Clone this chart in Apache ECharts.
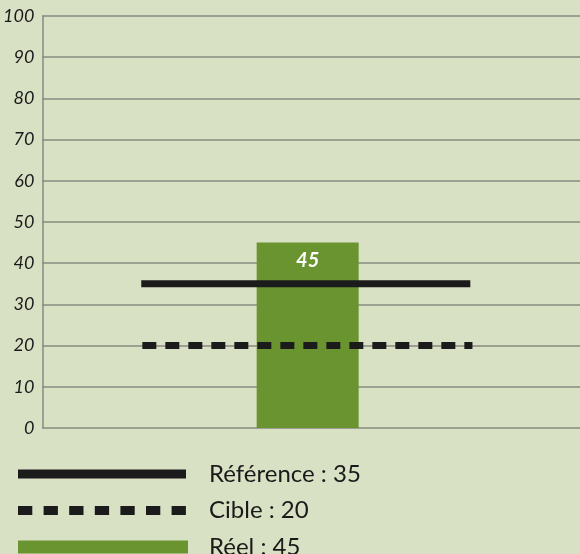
<!DOCTYPE html>
<html>
<head>
<meta charset="utf-8">
<script src="https://cdn.jsdelivr.net/npm/echarts@6/dist/echarts.min.js"></script>
<style>
html,body{margin:0;padding:0;background:#d9e1c4;}
#chart{width:580px;height:554px;}
</style>
</head>
<body>
<div id="chart"></div>
<script>
// ---- data ----
const categories = ['Réel'];
const actualValues = [45];
const referenceValue = 35;
const targetValue = 20;
const yTickLabels = ['0','10','20','30','40','50','60','70','80','90','100'];
// horizontal placement along a hidden 0..100 x scale
const barPosition = 49.35;
const refSpan = [18.4, 79.6];
const targetSpan = [18.6, 80.0];

const refName = 'Référence : ' + referenceValue;
const targetName = 'Cible : ' + targetValue;
const actualName = categories[0] + ' : ' + actualValues[0];

// legend icon shapes (170 x 13 box; tiny corner marks fix the bounding box)
const box = ' M0,0 h0.01 v0.01 h-0.01 Z M170,13 h-0.01 v-0.01 h0.01 Z';
const solidIcon = 'path://M0,2 h168 v9 h-168 Z' + box;
let dashPath = '';
for (let i = 0; i < 7; i++) { dashPath += 'M' + (i * 25.6).toFixed(1) + ',2 h14.3 v9 h-14.3 Z '; }
const dashIcon = 'path://' + dashPath + box;

const chart = echarts.init(document.getElementById('chart'), null, {renderer: 'canvas'});
const labelFont = 'Lato';
chart.setOption({
  backgroundColor: '#d9e1c4',
  animation: false,
  grid: {left: 41, right: 0, top: 16, bottom: 126},
  xAxis: {type: 'value', min: 0, max: 100, show: false},
  yAxis: {
    type: 'value', min: 0, max: 100, interval: 10,
    axisLine: {show: true, lineStyle: {color: '#878a80', width: 1.5}},
    axisTick: {show: false},
    axisLabel: {
      margin: 8, color: '#1a1a1a', fontSize: 18, fontStyle: 'italic',
      fontFamily: labelFont,
      formatter: v => yTickLabels[Math.round(v / 10)]
    },
    splitLine: {show: true, lineStyle: {color: '#878a80', width: 1.5}}
  },
  legend: {
    orient: 'vertical', left: 18, top: 462, height: 120, padding: 0,
    itemWidth: 170, itemHeight: 13, itemGap: 12.5,
    textStyle: {fontFamily: 'Lato', fontSize: 24, color: '#1a1a1a', padding: [0,0,0,16], lineHeight: 24},
    data: [
      {name: refName, icon: solidIcon, itemStyle: {color: '#1b1b1b'}},
      {name: targetName, icon: dashIcon, itemStyle: {color: '#1b1b1b'}},
      {name: actualName, icon: 'rect'}
    ]
  },
  series: [
    {
      name: actualName, type: 'bar', barWidth: 102, z: 1,
      itemStyle: {color: '#6a9430'},
      label: {
        show: true, position: 'insideTop', distance: 8,
        color: '#ffffff', fontSize: 20, fontWeight: 'bold', fontStyle: 'italic',
        fontFamily: labelFont,
        formatter: p => String(p.value[1])
      },
      data: actualValues.map(v => [barPosition, v])
    },
    {
      name: refName, type: 'line', symbol: 'none', z: 3,
      lineStyle: {color: '#1b1b1b', width: 7, cap: 'butt'},
      itemStyle: {color: '#1b1b1b'},
      data: refSpan.map(x => [x, referenceValue])
    },
    {
      name: targetName, type: 'line', symbol: 'none', z: 3,
      lineStyle: {color: '#1b1b1b', width: 7, type: [14, 9], cap: 'butt'},
      itemStyle: {color: '#1b1b1b'},
      data: targetSpan.map(x => [x, targetValue])
    }
  ]
});
</script>
</body>
</html>
